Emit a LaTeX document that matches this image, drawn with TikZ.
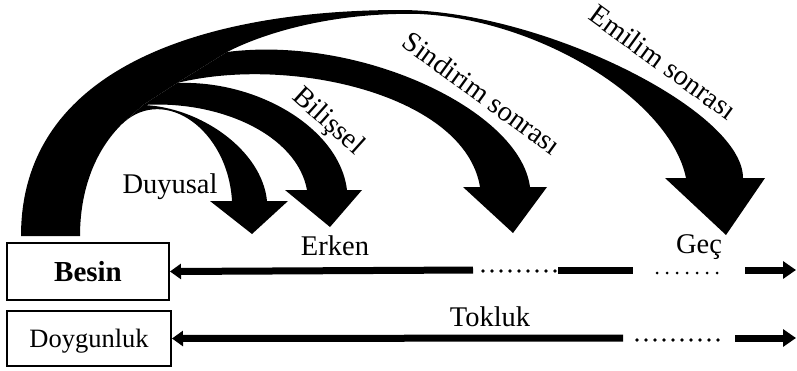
\documentclass[tikz,border=0pt]{standalone}
\usepackage{fontspec}
\setmainfont{Liberation Serif}
\usetikzlibrary{arrows.meta}
\begin{document}
\begin{tikzpicture}[x=1pt,y=-1pt,
  lbl/.style={font=\fontsize{28.5}{34}\selectfont, inner sep=0pt},
  box/.style={draw, line width=2pt, inner sep=0pt, text depth=0pt},
  bar/.style={line width=7pt},
  dotrow/.style={line width=3.8pt, line cap=round, dash pattern=on 0pt off 9pt},
  headL/.style={{Triangle[length=11pt,width=15pt]}-},
  headR/.style={-{Triangle[length=13pt,width=17pt]}}
]
\useasboundingbox (0,0) rectangle (797,370);

% outer curved arrow (Emilim sonrasi), carrying the common base
\fill (21,236) .. controls (21,60) and (220,10) .. (400,10)
  .. controls (540,10) and (743,110) .. (743,178)
  -- (765,178) -- (726,235) -- (665,178) -- (686,178)
  .. controls (670,100) and (540,20) .. (420,14)
  .. controls (340,12) and (270,30) .. (227,52)
  .. controls (180,62) and (135,95) .. (123,123)
  .. controls (95,150) and (80,190) .. (80,236) -- cycle;
% hub where the inner branches leave the main arc
\fill (227,52) -- (177,83) -- (143,105) -- (123,123) -- (100,100) -- (180,50) -- cycle;
% Sindirim sonrasi
\fill (227,52) .. controls (360,35) and (520,110) .. (530,187)
  -- (547,187) -- (513,233) -- (463,187) -- (480,187)
  .. controls (465,95) and (290,55) .. (177,83) -- cycle;
% Bilissel
\fill (177,83) .. controls (260,80) and (340,130) .. (347,190)
  -- (362,190) -- (330,227) -- (285,190) -- (307,190)
  .. controls (297,135) and (220,100) .. (143,105) -- cycle;
% Duyusal
\fill (143,105) .. controls (200,107) and (262,150) .. (267,201)
  -- (288,201) -- (252,234) -- (210,201) -- (232,201)
  .. controls (228,130) and (165,85) .. (123,123) -- cycle;

% arrow labels
\node[lbl, anchor=base] (duy) at (170,193) {Duyusal};
\node[lbl, rotate=-42] (bil) at (328,122) {Bilişsel};
\node[lbl, rotate=-36] (sin) at (482,93) {Sindirim sonrası};
\node[lbl, rotate=-36] (emi) at (663,62) {Emilim sonrası};

% boxes
\node[box, minimum width=162pt, minimum height=57pt,
      font=\bfseries\fontsize{29}{34}\selectfont] (besin) at (88,271.5) {Besin};
\node[box, minimum width=164pt, minimum height=55pt,
      font=\fontsize{26.5}{32}\selectfont] (doy) at (89,338.5) {Doygunluk};

% time line of Besin
\coordinate (b1) at (473,270);
\coordinate (b2) at (483,271);
\coordinate (b3) at (555,271);
\coordinate (b4) at (558,270);
\coordinate (b5) at (633,270);
\coordinate (b6) at (657,273);
\coordinate (b7) at (718,273);
\coordinate (b8) at (745,270);
\coordinate (b9) at (796,270);
\draw[bar, headL] (besin.east) -- (b1);
\draw[dotrow] (b2) -- (b3);
\draw[bar] (b4) -- (b5);
\draw[dotrow, line width=3pt, dash pattern=on 0pt off 10pt] (b6) -- (b7);
\draw[bar, headR] (b8) -- (b9);

% time line of Doygunluk
\coordinate (d1) at (623,338);
\coordinate (d2) at (637,340);
\coordinate (d3) at (718,340);
\coordinate (d4) at (735,338);
\coordinate (d5) at (796,338);
\draw[bar, headL] (doy.east) -- (d1);
\draw[dotrow] (d2) -- (d3);
\draw[bar, headR] (d4) -- (d5);

% phase labels
\node[lbl, anchor=base] (erken) at (335,255.5) {Erken};
\node[lbl, anchor=base] (gec) at (699,253) {Geç};
\node[lbl, anchor=base] (tok) at (490,326) {Tokluk};
\end{tikzpicture}
\end{document}
